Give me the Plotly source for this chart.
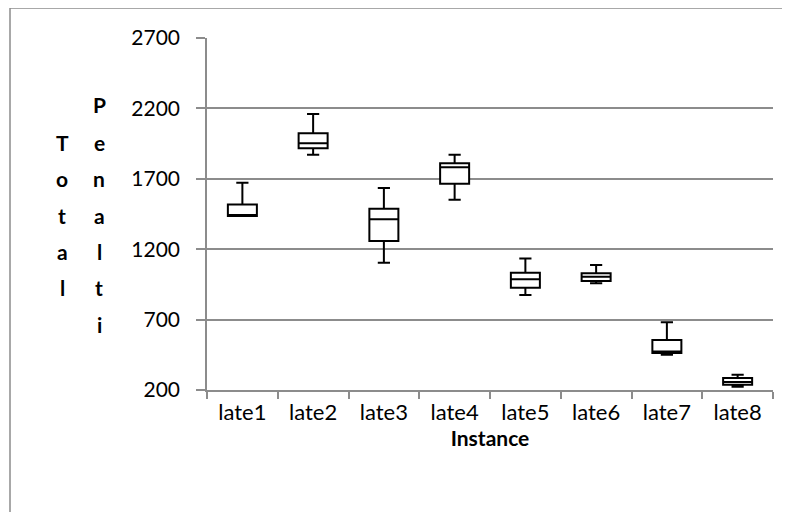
import plotly.graph_objects as go

categories = ["late1", "late2", "late3", "late4", "late5", "late6", "late7", "late8"]
lower_fence = [1436, 1870, 1103, 1552, 875, 958, 450, 223]
q1_vals = [1436, 1917, 1259, 1665, 926, 974, 462, 237]
median_vals = [1438, 1952, 1412, 1782, 986, 1005, 474, 257]
q3_vals = [1518, 2023, 1488, 1810, 1032, 1029, 556, 285]
upper_fence = [1672, 2160, 1634, 1870, 1134, 1087, 682, 308]
y_ticks = [200, 700, 1200, 1700, 2200, 2700]

# page body has an 8px default margin; compensate so the plot lands where the reference has it
OFF = 8
W, H = 790 - OFF, 512 - OFF
L, R, T, B = 207 - OFF, 17, 38 - OFF, 122
pw, ph = W - L - R, H - T - B

FONT = "Lato"
GRID = "#8c8c8c"

fig = go.Figure()
fig.add_trace(go.Box(
    x=categories,
    q1=q1_vals, median=median_vals, q3=q3_vals,
    lowerfence=lower_fence, upperfence=upper_fence,
    boxpoints=False,
    fillcolor="white",
    line=dict(color="black", width=2),
    width=0.41,
    whiskerwidth=0.42,
    showlegend=False,
    hoverinfo="skip",
))

def px_to_paper_x(px):
    return (px - OFF - L) / pw

def px_to_paper_y(py):
    return (H - B - (py - OFF)) / ph

annotations = []
col1 = list("Total")
col2 = list("Penalti")
row_y2 = [105, 142, 179, 215, 251, 287, 324]
row_y1 = row_y2[1:6]
for ch, py in zip(col1, row_y1):
    annotations.append(dict(text=f"<b>{ch}</b>", x=px_to_paper_x(62), y=px_to_paper_y(py),
                            xref="paper", yref="paper", showarrow=False,
                            xanchor="center", yanchor="middle",
                            font=dict(family=FONT, size=21, color="black")))
for ch, py in zip(col2, row_y2):
    annotations.append(dict(text=f"<b>{ch}</b>", x=px_to_paper_x(99), y=px_to_paper_y(py),
                            xref="paper", yref="paper", showarrow=False,
                            xanchor="center", yanchor="middle",
                            font=dict(family=FONT, size=21, color="black")))

fig.update_layout(
    width=W, height=H,
    margin=dict(l=L, r=R, t=T, b=B, pad=0),
    paper_bgcolor="white", plot_bgcolor="white",
    font=dict(family=FONT, size=21, color="black"),
    annotations=annotations,
    shapes=[dict(type="rect", xref="paper", yref="paper",
                 x0=px_to_paper_x(10), x1=px_to_paper_x(820),
                 y0=px_to_paper_y(560), y1=px_to_paper_y(8),
                 line=dict(color=GRID, width=1.5), fillcolor="rgba(0,0,0,0)",
                 layer="below")],
)
fig.update_xaxes(
    type="category", categoryorder="array", categoryarray=categories,
    range=[-0.5, 7.5],
    showline=True, linecolor=GRID, linewidth=1.5,
    ticks="outside", tickson="boundaries", ticklen=7, tickcolor=GRID, tickwidth=1.5,
    showgrid=False,
    tickfont=dict(family=FONT, size=22, color="black"),
    ticklabelstandoff=2,
    title=dict(text="<b>Instance</b>", font=dict(family=FONT, size=21, color="black"), standoff=7),
)
fig.update_yaxes(
    range=[200, 2700], tickvals=y_ticks, ticktext=[str(v) for v in y_ticks],
    showline=True, linecolor=GRID, linewidth=1.5,
    ticks="outside", ticklen=9, tickcolor=GRID, tickwidth=1.5,
    showgrid=True, gridcolor=GRID, gridwidth=1.5,
    zeroline=False,
    tickfont=dict(family=FONT, size=21, color="black"),
    ticklabelstandoff=12,
)

fig.write_html("out.html")
